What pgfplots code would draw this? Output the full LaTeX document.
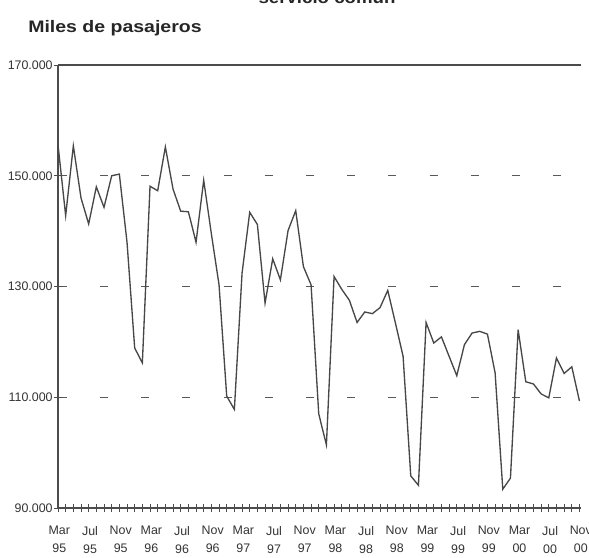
\documentclass[border=0pt]{standalone}
\usepackage{fontspec}
\setmainfont{Liberation Sans}
\usepackage{graphicx}
\usepackage{pgfplots}
\pgfplotsset{compat=1.18}
\begin{document}
\begin{tikzpicture}[x=0.75pt,y=0.75pt]
\begin{axis}[
  scale only axis,
  width=392.25pt, height=332.25pt,
  at={(43.5pt,36.75pt)}, anchor=south west,
  xmin=0, xmax=68.2, ymin=90000, ymax=170000,
  scaled y ticks=false,
  axis x line*=bottom, axis y line*=left,
  axis line style={draw=black!70, line width=0.8pt, -},
  xtick={0,4,...,68},
  minor xtick={0,...,68},
  xticklabels={{Mar\\95},{Jul\\95},{Nov\\95},{Mar\\96},{Jul\\96},{Nov\\96},{Mar\\97},{Jul\\97},{Nov\\97},{Mar\\98},{Jul\\98},{Nov\\98},{Mar\\99},{Jul\\99},{Nov\\99},{Mar\\00},{Jul\\00},{Nov\\00}},
  xticklabel style={align=center, font=\fontsize{9.3}{13.5}\selectfont, text=black!80, yshift=-7pt, xshift=1pt},
  ytick={90000,110000,130000,150000},
  yticklabels={90.000,110.000,130.000,150.000},
  extra y ticks={170000},
  extra y tick labels={170.000},
  extra y tick style={grid=major, major grid style={solid, draw=black!70, line width=0.8pt}},
  yticklabel style={font=\fontsize{9.3}{10}\selectfont, text=black!80, xshift=2.5pt},
  tick align=center, major tick length=6pt, minor tick length=6pt,
  tick style={black!70, line width=0.6pt},
  ymajorgrids,
  grid style={draw=black!65, line width=1pt, dash pattern=on 6pt off 24.9pt, dash phase=30.3pt},
  clip=false,
]
\addplot[color=black!72, line width=1pt] table {
x y
0 155600
1 142800
2 155400
3 146000
4 141300
5 148000
6 144300
7 150000
8 150300
9 138000
10 118900
11 116200
12 148100
13 147300
14 155200
15 147600
16 143600
17 143500
18 138000
19 149200
20 139500
21 130300
22 110200
23 107800
24 132400
25 143400
26 141200
27 127000
28 135000
29 131200
30 140100
31 143700
32 133600
33 130300
34 107000
35 101400
36 131800
37 129500
38 127500
39 123500
40 125400
41 125100
42 126200
43 129300
44 123400
45 117400
46 95800
47 94100
48 123500
49 119800
50 120900
51 117400
52 113900
53 119500
54 121600
55 121900
56 121400
57 114400
58 93400
59 95400
60 122200
61 112800
62 112400
63 110600
64 109900
65 117100
66 114300
67 115500
68 109300
};
\end{axis}
\node[anchor=base west, inner sep=0pt, font=\fontsize{12.5}{14}\selectfont\bfseries, text=black!85] at (28,524) {\scalebox{1.17}[1]{Miles de pasajeros}};
\node[anchor=base, inner sep=0pt, font=\fontsize{12.5}{14}\selectfont\bfseries, text=black!85] at (327,553) {\scalebox{1.12}[1]{servicio común}};
\pgfresetboundingbox
\path[use as bounding box] (0,0) rectangle (589,557);
\end{tikzpicture}
\end{document}
